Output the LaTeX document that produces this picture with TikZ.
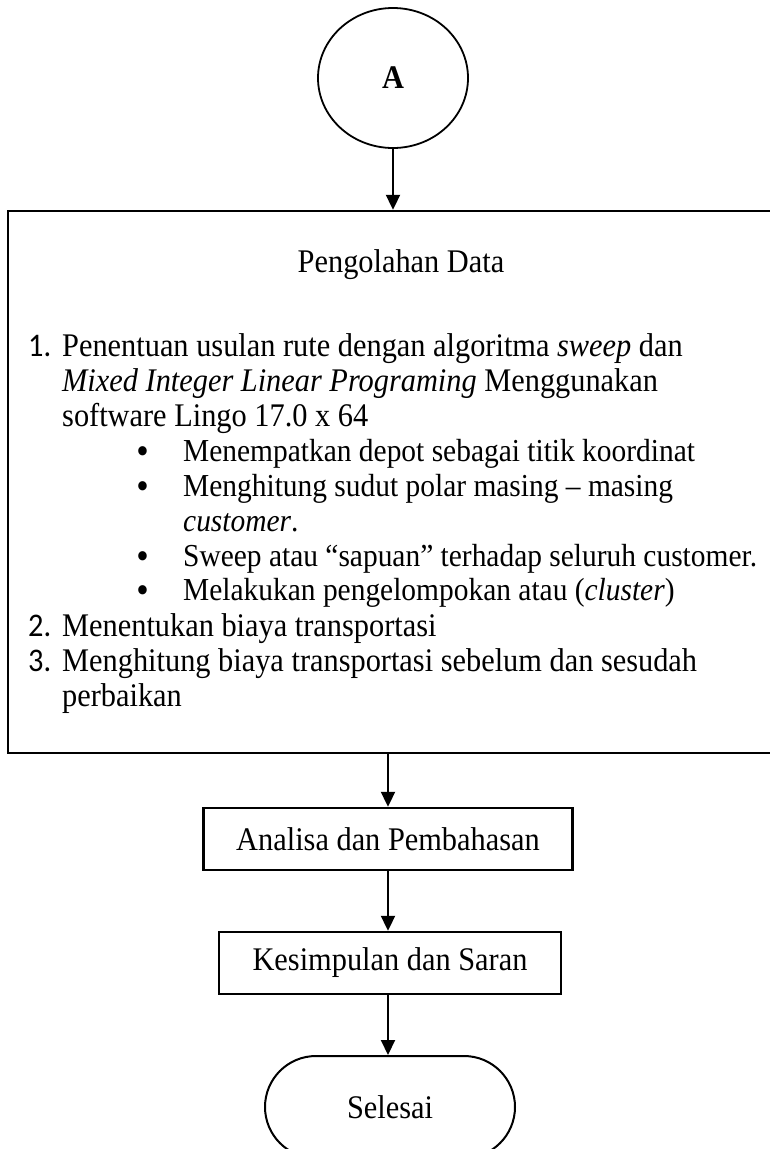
\documentclass[tikz,border=0pt]{standalone}
\usepackage{fontspec}
\setmainfont{Liberation Serif}[FakeStretch=0.92]
\newfontfamily\numfont{Carlito}[FakeStretch=0.92]
\usetikzlibrary{shapes.geometric, arrows.meta, positioning}

\begin{document}
\begin{tikzpicture}[x=1pt, y=-1pt,
  font=\fontsize{33}{35}\selectfont,
  kotak/.style={draw, line width=2.4pt, minimum height=62pt, inner sep=0pt},
  panah/.style={line width=2pt, -{Triangle[length=15pt,width=14pt]}},
  baris/.style={anchor=base west, inner sep=0pt},
  subbaris/.style={baris, font=\fontsize{32}{35}\selectfont},
  titik/.style={anchor=base west, inner sep=0pt, font=\fontsize{34}{35}\selectfont}]
\clip (0,0) rectangle (770,1149);
\node[ellipse, draw, line width=1.8pt, minimum width=150pt,
minimum height=140pt] (conA) at (393,78) {\bfseries A};
\node[kotak, minimum width=777pt, minimum height=542pt] (olah) at (396.5,482) {};
\node[anchor=base] (judul) at (401,272) {Pengolahan Data};
\node[baris] (n1) at (28,356) {\numfont 1.};
\node[baris] (l1) at (62,356) {Penentuan usulan rute dengan algoritma \textit{sweep} dan};
\node[baris] (l2) at (62,391) {\textit{Mixed Integer Linear Programing} Menggunakan};
\node[baris] (l3) at (62,426) {software Lingo 17.0 x 64};
\node[titik] (t1) at (137,462) {\textbf{\textbullet}};
\node[subbaris] (l4) at (183,461) {Menempatkan depot sebagai titik koordinat};
\node[titik] (t2) at (137,497) {\textbf{\textbullet}};
\node[subbaris] (l5) at (183,496) {Menghitung sudut polar masing – masing};
\node[subbaris] (l6) at (183,531) {\textit{customer}.};
\node[titik] (t3) at (137,567) {\textbf{\textbullet}};
\node[subbaris] (l7) at (183,566) {Sweep atau “sapuan” terhadap seluruh customer.};
\node[titik] (t4) at (137,601) {\textbf{\textbullet}};
\node[subbaris] (l8) at (183,600) {Melakukan pengelompokan atau (\textit{cluster})};
\node[baris] (n2) at (28,636) {\numfont 2.};
\node[baris] (l9) at (62,636) {Menentukan biaya transportasi};
\node[baris] (n3) at (28,671) {\numfont 3.};
\node[baris] (l10) at (62,671) {Menghitung biaya transportasi sebelum dan sesudah};
\node[baris] (l11) at (62,706) {perbaikan};
\node[kotak, minimum width=369pt] (analisa) at (388,839) {Analisa dan Pembahasan};
\node[kotak, minimum width=342pt] (simpul) at (390,963) {Kesimpulan dan Saran};
\node[draw, line width=2pt, rounded corners=51pt, minimum width=250pt,
minimum height=102pt] (selesai) at (390,1107) {Selesai};
\draw[panah] (conA.south) -- (conA.south |- olah.north);
\draw[panah] (olah.south -| analisa.north) -- (analisa.north);
\draw[panah] (analisa.south) -- (analisa.south |- simpul.north);
\draw[panah] (analisa.south |- simpul.south) -- (analisa.south |- selesai.north);
\end{tikzpicture}
\end{document}
